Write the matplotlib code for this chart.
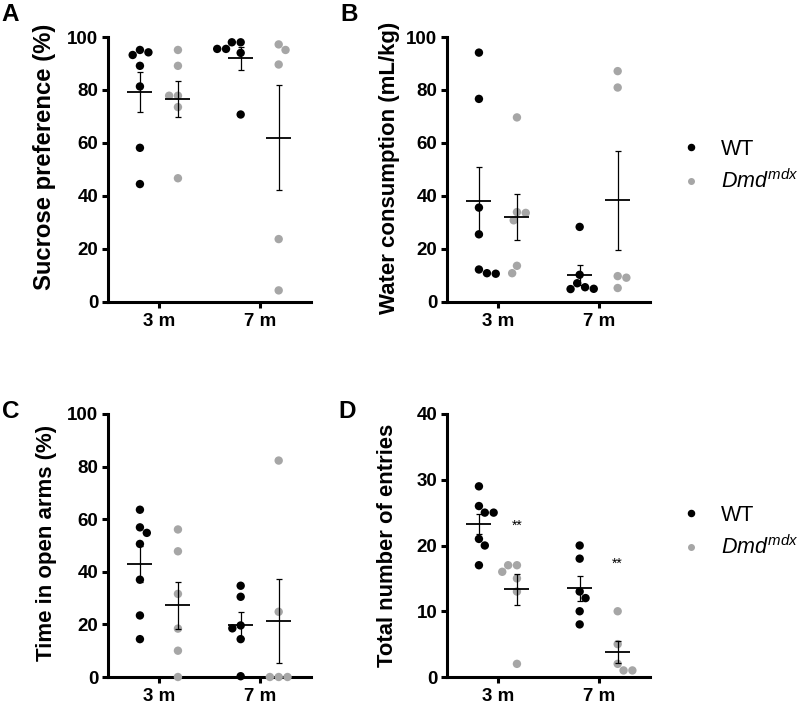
import numpy as np
import matplotlib
matplotlib.use('Agg')
import matplotlib.pyplot as plt
from matplotlib.lines import Line2D

plt.rcParams['font.family'] = ['Liberation Sans', 'DejaVu Sans']
plt.rcParams['mathtext.fontset'] = 'custom'
plt.rcParams['mathtext.it'] = 'Liberation Sans:italic'
plt.rcParams['mathtext.rm'] = 'Liberation Sans'

# ---------------- data ----------------
ages = ['3 m', '7 m']
genotypes = ['WT', r'$Dmd^{mdx}$']

sucrose_wt_3m = [95.1, 94.2, 93.2, 89.1, 81.3, 58.1, 44.4]
sucrose_mdx_3m = [95.1, 89.1, 77.8, 77.8, 73.5, 46.6]
sucrose_wt_7m = [98.0, 98.0, 95.5, 95.5, 94.0, 70.7]
sucrose_mdx_7m = [97.2, 95.1, 89.6, 23.6, 4.2]

water_wt_3m = [94.1, 76.6, 35.5, 25.4, 12.1, 10.5, 10.7]
water_mdx_3m = [69.6, 33.8, 33.5, 30.7, 13.5, 10.7]
water_wt_7m = [28.2, 10.1, 6.9, 5.4, 4.8, 4.7]
water_mdx_7m = [87.1, 80.9, 9.6, 9.0, 5.1]

openarm_wt_3m = [63.6, 56.9, 54.8, 50.6, 37.0, 23.4, 14.4]
openarm_mdx_3m = [56.1, 47.8, 31.6, 18.4, 10.0, 0.0]
openarm_wt_7m = [34.7, 30.5, 19.6, 18.5, 14.4, 0.3]
openarm_mdx_7m = [82.3, 24.8, 0.0, 0.0, 0.0]

entries_wt_3m = [29, 26, 25, 25, 21, 20, 17]
entries_mdx_3m = [17, 17, 16, 15, 13, 2]
entries_wt_7m = [20, 18, 13, 12, 10, 8]
entries_mdx_7m = [10, 5, 2, 1, 1]

panel_letters = ['A', 'B', 'C', 'D']
ylabels = ['Sucrose preference (%)', 'Water consumption (mL/kg)',
           'Time in open arms (%)', 'Total number of entries']
ymax = [100, 100, 100, 40]
ystep = [20, 20, 20, 10]
sig_label = '**'

# ---------------- style ----------------
WT_COL = '#000000'
MDX_COL = '#A6A6A6'
DOT_PX = 8.4
W, H = 800, 706
fig = plt.figure(figsize=(W / 100, H / 100), dpi=100)

rects = [
    [108 / W, 1 - 301.5 / H, 203 / W, 264.5 / H],
    [447 / W, 1 - 301.5 / H, 203 / W, 264.5 / H],
    [108 / W, 1 - 677 / H, 203 / W, 263 / H],
    [447 / W, 1 - 677 / H, 203 / W, 263 / H],
]
panels = [
    [sucrose_wt_3m, sucrose_mdx_3m, sucrose_wt_7m, sucrose_mdx_7m],
    [water_wt_3m, water_mdx_3m, water_wt_7m, water_mdx_7m],
    [openarm_wt_3m, openarm_mdx_3m, openarm_wt_7m, openarm_mdx_7m],
    [entries_wt_3m, entries_mdx_3m, entries_wt_7m, entries_mdx_7m],
]
xpos = [1.0, 2.0, 3.65, 4.65]
xticks = [1.5, 4.15]
colors = [WT_COL, MDX_COL, WT_COL, MDX_COL]


def swarm(ax, xc, vals, d=DOT_PX * 1.05):
    """simple beeswarm in display pixels; returns x positions in data units"""
    pts = ax.transData.transform(np.column_stack([np.full(len(vals), xc), vals]))
    ys = pts[:, 1]
    order = np.argsort(-np.asarray(vals), kind='stable')
    placed = []
    offs = np.zeros(len(vals))
    for i in order:
        y = ys[i]
        cands = [0.0]
        for (px, py) in placed:
            dy = abs(py - y)
            if dy < d:
                dx = np.sqrt(d * d - dy * dy)
                cands += [px - dx, px + dx]
        cands = sorted(set(np.round(cands, 6)), key=lambda c: (abs(c), c))
        for c in cands:
            if all((c - px) ** 2 + (y - py) ** 2 >= d * d - 1e-6 for px, py in placed):
                break
        placed.append((c, y))
        offs[i] = c
    ppu = ax.transData.transform((1, 0))[0] - ax.transData.transform((0, 0))[0]
    return xc + offs / ppu


for k in range(4):
    ax = fig.add_axes(rects[k])
    ax.set_xlim(0.16, 5.5)
    ax.set_ylim(0, ymax[k])
    for sp in ['top', 'right']:
        ax.spines[sp].set_visible(False)
    for sp in ['left', 'bottom']:
        ax.spines[sp].set_linewidth(2.2)
    ax.tick_params(width=2.2, length=4.5, labelsize=13.5, pad=2.5, color='black')
    ax.tick_params(axis='x', pad=3.5)
    ax.set_yticks(np.arange(0, ymax[k] + 0.1, ystep[k]))
    ax.set_xticks(xticks)
    ax.set_xticklabels(ages)
    for lab in ax.get_xticklabels() + ax.get_yticklabels():
        lab.set_fontweight('bold')

    for j, vals in enumerate(panels[k]):
        v = np.asarray(vals, float)
        xs = swarm(ax, xpos[j], v)
        ax.scatter(xs, v, s=(DOT_PX * 72 / 100) ** 2, color=colors[j],
                   edgecolors='none', zorder=3, clip_on=False)
        m = v.mean()
        sem = v.std(ddof=1) / np.sqrt(len(v))
        ax.hlines(m, xpos[j] - 0.33, xpos[j] + 0.33, color='black', lw=1.3, zorder=5)
        ax.errorbar(xpos[j], m, yerr=sem, fmt='none', ecolor='black',
                    elinewidth=0.9, capsize=2.5, capthick=0.9, zorder=5)
        if k == 3 and j in (1, 3):
            ax.text(xpos[j], v.mean() + (9.6 if j == 1 else 13.4), sig_label,
                    ha='center', va='center', fontsize=10)

    if k in (1, 3):
        handles = [Line2D([], [], marker='o', ls='none', color=WT_COL, markersize=4.4),
                   Line2D([], [], marker='o', ls='none', color=MDX_COL, markersize=4.0)]
        cy = 166 if k == 1 else 532
        ax.legend(handles, genotypes, loc='center left',
                  bbox_to_anchor=(682 / W, 1 - cy / H), bbox_transform=fig.transFigure,
                  frameon=False, fontsize=15.5, handlelength=0.8, handletextpad=1.0,
                  borderpad=0, borderaxespad=0, labelspacing=0.45)

ylab_pos = [(45, 157), (389, 168), (47, 543), (387.5, 545.5)]
ylab_size = [17.2, 16.0, 16.0, 15.8]
for k in range(4):
    x, y = ylab_pos[k]
    fig.text(x / W, 1 - y / H, ylabels[k], rotation=90, ha='center', va='center',
             fontsize=ylab_size[k], fontweight='bold')

letter_pos = [(1, 21), (340, 21), (2, 418), (338, 418)]
for k in range(4):
    x, y = letter_pos[k]
    fig.text(x / W, 1 - y / H, panel_letters[k], fontsize=17.5, fontweight='bold',
             ha='left', va='baseline')

fig.savefig('out.png', dpi=100)
